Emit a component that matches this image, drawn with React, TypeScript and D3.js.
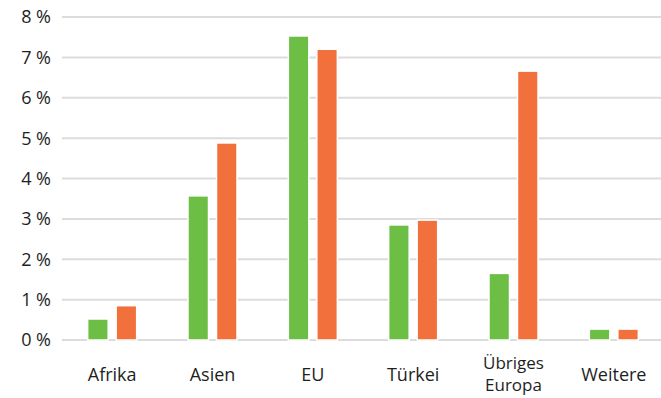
import { scaleBand, scaleLinear, range } from "d3";

const categories = [["Afrika"], ["Asien"], ["EU"], ["Türkei"], ["Übriges", "Europa"], ["Weitere"]];
const seriesGreen = [0.52, 3.57, 7.53, 2.85, 1.65, 0.27];
const seriesOrange = [0.85, 4.88, 7.2, 2.97, 6.66, 0.27];
const yTicks = [0, 1, 2, 3, 4, 5, 6, 7, 8];

const colors = ["#6dbe45", "#f1703b"];
const W = 661;
const H = 398;

export default function App() {
  const series = [seriesGreen, seriesOrange];
  const y = scaleLinear().domain([0, 8]).range([340, 17]);
  const x = scaleBand<number>()
    .domain(range(categories.length))
    .range([62, 664])
    .padding(0);
  const groupW = 49;
  const inner = scaleBand<number>()
    .domain([0, 1])
    .range([0, groupW])
    .paddingInner(0.28);

  const font = "'Open Sans', sans-serif";

  return (
    <svg
      width={W}
      height={H}
      style={{ position: "absolute", left: 0, top: 0, background: "white" }}
    >
      {/* grid */}
      {yTicks.map(t => (
        <g key={t}>
          <line x1={62} x2={W} y1={y(t)} y2={y(t)} stroke="#dddcdc" strokeWidth={2} />
          <text
            x={51}
            y={y(t)}
            dy="0.36em"
            textAnchor="end"
            fontSize={18}
            fontWeight={500}
            fontFamily={font}
            fill="#1e1e1e"
          >
            {t} %
          </text>
        </g>
      ))}

      {/* bars */}
      {categories.map((c, i) => {
        const cx = (x(i) as number) + x.bandwidth() / 2;
        const x0 = cx - groupW / 2;
        return (
          <g key={i}>
            {series.map((s, j) => (
              <rect
                key={j}
                x={x0 + (inner(j) as number)}
                y={y(s[i])}
                width={inner.bandwidth()}
                height={y(0) - y(s[i])}
                fill={colors[j]}
                stroke="white"
                strokeWidth={1.5}
              />
            ))}
            {c.map((line, k) => (
              <text
                key={k}
                x={cx}
                y={c.length > 1 ? 369 + k * 22 : 381}
                textAnchor="middle"
                fontSize={c.length > 1 ? 17 : 18}
                fontWeight={500}
                fontFamily={font}
                fill="#1e1e1e"
              >
                {line}
              </text>
            ))}
          </g>
        );
      })}
    </svg>
  );
}
